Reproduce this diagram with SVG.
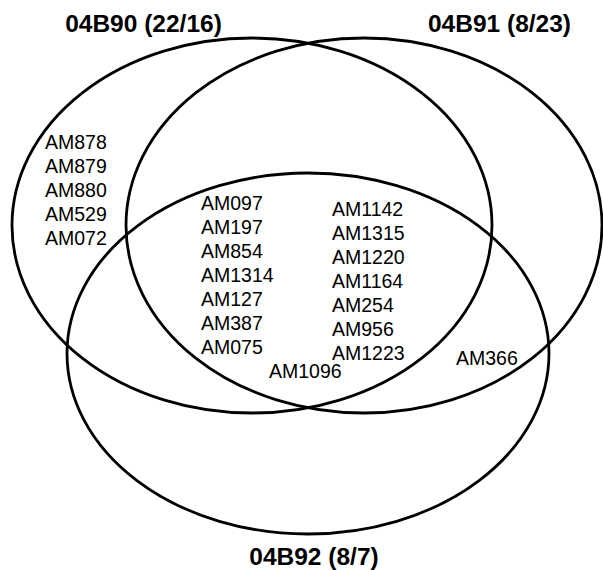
<svg xmlns="http://www.w3.org/2000/svg" width="603" height="570" viewBox="0 0 603 570">
<style>
.set{fill:none;stroke:#000;stroke-width:2.8}
.t{font-family:"Liberation Sans",Arial,sans-serif;font-size:19.5px;fill:#000}
.h{font-family:"Liberation Sans",Arial,sans-serif;font-size:24.5px;font-weight:bold;fill:#000;text-anchor:middle}
</style>
<rect width="603" height="570" fill="#fff"/>
<g id="set-04B90">
<ellipse class="set" cx="252" cy="225.5" rx="240" ry="187.5"/>
<text class="h" x="143.5" y="32">04B90 (22/16)</text>
</g>
<g id="set-04B91">
<ellipse class="set" cx="364" cy="225.5" rx="238" ry="187.5"/>
<text class="h" x="499.5" y="32">04B91 (8/23)</text>
</g>
<g id="set-04B92">
<ellipse class="set" cx="308" cy="353.5" rx="241" ry="180.5"/>
<text class="h" x="314" y="565">04B92 (8/7)</text>
</g>
<g id="only-04B90">
<text class="t" x="45" y="148.7">AM878</text>
<text class="t" x="45" y="172.7">AM879</text>
<text class="t" x="45" y="196.7">AM880</text>
<text class="t" x="45" y="220.7">AM529</text>
<text class="t" x="45" y="244.7">AM072</text>
</g>
<g id="all-three-a">
<text class="t" x="201" y="210">AM097</text>
<text class="t" x="201" y="234">AM197</text>
<text class="t" x="201" y="258">AM854</text>
<text class="t" x="201" y="282">AM1314</text>
<text class="t" x="201" y="306">AM127</text>
<text class="t" x="201" y="330">AM387</text>
<text class="t" x="201" y="354">AM075</text>
</g>
<g id="all-three-b">
<text class="t" x="332" y="216">AM1142</text>
<text class="t" x="332" y="240">AM1315</text>
<text class="t" x="332" y="264">AM1220</text>
<text class="t" x="332" y="288">AM1164</text>
<text class="t" x="332" y="312">AM254</text>
<text class="t" x="332" y="336">AM956</text>
<text class="t" x="332" y="360">AM1223</text>
</g>
<g id="misc">
<text class="t" x="269" y="378">AM1096</text>
<text class="t" x="456" y="365">AM366</text>
</g>
<g id="connectors"/>
</svg>
